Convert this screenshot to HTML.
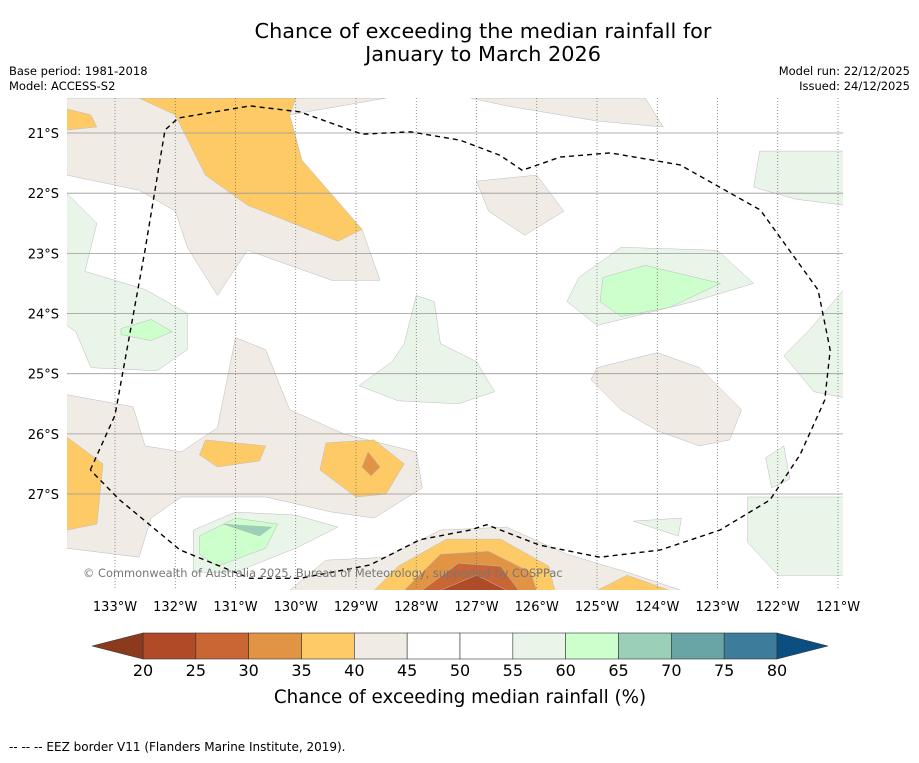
<!DOCTYPE html>
<html><head><meta charset="utf-8"><style>
body{margin:0;background:#fff;font-family:"Liberation Sans","DejaVu Sans",sans-serif;}
svg text{font-family:"DejaVu Sans","Liberation Sans",sans-serif;}
</style></head><body>
<svg id="chart" width="919" height="758" viewBox="0 0 919 758" xmlns="http://www.w3.org/2000/svg">
<text x="483" y="38" text-anchor="middle" font-size="20.8">Chance of exceeding the median rainfall for</text>
<text x="483" y="61" text-anchor="middle" font-size="20.8">January to March 2026</text>
<text x="9" y="75" font-size="11.5">Base period: 1981-2018</text>
<text x="9" y="90" font-size="11.5">Model: ACCESS-S2</text>
<text x="910" y="75" font-size="11.5" text-anchor="end">Model run: 22/12/2025</text>
<text x="910" y="90" font-size="11.5" text-anchor="end">Issued: 24/12/2025</text>
<defs><clipPath id="mapclip"><rect x="67" y="98" width="776" height="492"/></clipPath></defs>
<g id="map" clip-path="url(#mapclip)"><rect x="67" y="98" width="776" height="492" fill="#fff"/></g>
<g id="grid"></g>
<g id="eez"></g>
<text x="83" y="577" font-size="11.4" fill="#777">© Commonwealth of Australia 2025, Bureau of Meteorology, supported by COSPPac</text>
<g id="axes"></g>
<g id="cbar"></g>
<text x="460" y="703" text-anchor="middle" font-size="18.3">Chance of exceeding median rainfall (%)</text>
<text x="9" y="751" font-size="12">--  --  -- EEZ border V11 (Flanders Marine Institute, 2019).</text>
</svg>
<script>
const latTicks=[21,22,23,24,25,26,27];
const lonTicks=[133,132,131,130,129,128,127,126,125,124,123,122,121];
const levels=[20,25,30,35,40,45,50,55,60,65,70,75,80];
const bandColors=["#b04a27","#c96633","#e09444","#fdca66","#f0ebe5","#ffffff","#ffffff","#eaf5ea","#ccffcc","#9ccfb8","#6aa5a5","#3d7c9a"];
const extLow="#8b3a1d", extHigh="#0b4f82";
const beigeAreas=[
[[133.8,20.42],[128.5,20.42],[130.1,20.7],[129.9,21.45],[128.9,22.6],[128.6,23.45],[129.4,23.45],[130.8,22.95],[131.3,23.7],[131.8,22.9],[132.0,22.3],[132.6,21.95],[133.8,21.7]],
[[127.1,20.42],[124.2,20.42],[123.9,20.9],[125.0,20.8],[126.5,20.55]],
[[127.0,21.8],[126.0,21.7],[125.55,22.3],[126.2,22.7],[126.8,22.3]],
[[125.0,24.9],[124.0,24.65],[123.3,24.9],[122.6,25.6],[122.8,26.1],[123.3,26.2],[124.0,25.95],[124.6,25.6],[125.1,25.1]],
[[133.8,25.35],[132.7,25.55],[132.5,26.2],[131.9,26.3],[131.3,25.9],[131.0,24.4],[130.5,24.6],[130.1,25.6],[129.2,26.0],[128.0,26.3],[127.9,26.9],[128.7,27.4],[129.4,27.3],[130.5,27.05],[131.9,27.05],[132.4,27.4],[132.6,28.05],[133.8,27.9]],
[[130.1,28.6],[129.5,28.1],[128.5,28.05],[127.6,27.6],[126.5,27.55],[125.5,28.0],[124.5,28.3],[123.6,28.6]]
];
const orangeAreas=[
[[132.6,20.42],[130.0,20.42],[130.1,20.7],[129.9,21.45],[128.9,22.6],[129.3,22.8],[130.8,22.2],[131.5,21.7],[131.8,21.1],[132.0,20.7]],
[[133.8,20.6],[133.4,20.7],[133.3,20.9],[133.8,20.95]],
[[131.5,26.1],[130.5,26.2],[130.6,26.45],[131.3,26.55],[131.6,26.35]],
[[129.5,26.15],[128.7,26.1],[128.2,26.5],[128.5,27.0],[129.0,27.05],[129.6,26.6]],
[[133.8,26.05],[133.2,26.5],[133.3,27.5],[133.8,27.6]],
[[128.7,28.6],[128.3,28.2],[127.5,27.75],[126.6,27.75],[125.8,28.2],[125.7,28.6]],
[[125.0,28.6],[124.5,28.35],[123.8,28.6]]
];
const orange2Areas=[[[128.8,26.3],[128.6,26.55],[128.75,26.7],[128.9,26.55]],[[128.2,28.6],[127.6,28.0],[126.8,27.95],[126.1,28.3],[126.0,28.6]]];
const brownAreas=[[[127.9,28.6],[127.3,28.15],[126.6,28.2],[126.3,28.6]]];
const darkBrownAreas=[[[127.6,28.6],[127.0,28.35],[126.5,28.6]]];
const greenAreas=[
[[122.3,21.3],[120.9,21.3],[120.9,22.2],[121.7,22.1],[122.4,21.9]],
[[125.3,23.4],[124.6,22.9],[123.0,22.95],[122.4,23.5],[123.4,23.8],[125.0,24.2],[125.5,23.8]],
[[133.8,22.0],[133.3,22.5],[133.5,23.3],[132.5,23.6],[131.8,24.0],[131.8,24.6],[132.3,24.95],[133.4,24.9],[133.65,24.3],[133.8,24.2]],
[[128.0,23.7],[127.7,23.8],[127.6,24.5],[127.0,24.8],[126.7,25.3],[127.3,25.5],[128.3,25.45],[128.95,25.2],[128.4,24.8],[128.2,24.5]],
[[120.9,23.6],[121.5,24.3],[121.9,24.7],[121.4,25.3],[120.9,25.4]],
[[131.7,27.6],[131.0,27.3],[130.0,27.35],[129.3,27.55],[130.0,27.9],[131.0,28.3],[131.7,28.3]],
[[122.5,27.05],[120.9,27.05],[120.9,28.35],[122.0,28.35],[122.5,27.8]],
[[122.2,26.4],[121.9,26.2],[121.8,26.75],[122.1,26.9]],
[[124.4,27.45],[123.6,27.4],[123.65,27.7]]
];
const lightGreenAreas=[
[[124.9,23.4],[124.2,23.2],[122.95,23.5],[123.8,23.9],[124.6,24.05],[124.95,23.8]],
[[132.9,24.25],[132.4,24.1],[132.05,24.3],[132.4,24.45],[132.9,24.35]],
[[131.6,27.7],[131.0,27.4],[130.3,27.5],[130.5,27.9],[131.3,28.2],[131.6,28.0]]
];
const tealAreas=[[[131.2,27.5],[130.4,27.55],[130.6,27.7],[130.9,27.6]]];
const eezLine=[[133.41,26.60],[133.0,25.69],[132.5,22.94],[132.17,20.95],[131.95,20.75],[130.76,20.55],[129.93,20.65],[128.9,21.02],[128.1,20.98],[127.27,21.12],[126.61,21.37],[126.24,21.62],[125.61,21.40],[124.78,21.33],[123.62,21.53],[122.29,22.28],[121.33,23.61],[121.13,24.61],[121.22,25.44],[121.63,26.35],[122.13,27.10],[122.96,27.60],[123.95,27.93],[124.95,28.05],[125.95,27.85],[126.83,27.51],[127.11,27.60],[127.94,27.76],[128.77,28.18],[129.93,28.40],[130.76,28.40],[131.92,27.93],[132.92,27.10],[133.41,26.60]];

const NS="http://www.w3.org/2000/svg";
const X=lon=>115+(133-lon)*60.25;
const Y=lat=>133+(lat-21)*60.17;
const CB=v=>143+(v-20)*(634/60);
function mk(tag,attrs,parent){const e=document.createElementNS(NS,tag);for(const k in attrs)e.setAttribute(k,attrs[k]);parent.appendChild(e);return e;}
const map=document.getElementById('map');
function drawAreas(arr,fill,name){arr.forEach(poly=>{
 const p=mk('polygon',{points:poly.map(q=>X(q[0]).toFixed(1)+','+Y(q[1]).toFixed(1)).join(' '),fill:fill,stroke:'#bbb','stroke-width':0.5,'stroke-linejoin':'round'},map);
 
 
});}
drawAreas(beigeAreas,bandColors[4],'contour-40-45');
drawAreas(orangeAreas,bandColors[3],'contour-35-40');
drawAreas(orange2Areas,bandColors[2],'contour-30-35');
drawAreas(brownAreas,bandColors[1],'contour-25-30');
drawAreas(darkBrownAreas,bandColors[0],'contour-20-25');
drawAreas(greenAreas,bandColors[7],'contour-55-60');
drawAreas(lightGreenAreas,bandColors[8],'contour-60-65');
drawAreas(tealAreas,bandColors[9],'contour-65-70');
const grid=document.getElementById('grid'),axes=document.getElementById('axes');
latTicks.forEach(l=>{
 const ln=mk('line',{x1:67,x2:843,y1:Y(l),y2:Y(l),stroke:'#999','stroke-width':0.8},grid);
 
 
 const t=mk('text',{x:59,y:Y(l)+5,'text-anchor':'end','font-size':13},axes);
 
 
 t.textContent=l+'°S';
});
lonTicks.forEach(l=>{
 const ln=mk('line',{x1:X(l),x2:X(l),y1:98,y2:590,stroke:'#666','stroke-width':0.7,'stroke-dasharray':'1,2'},grid);
 
 
 const t=mk('text',{x:X(l),y:611,'text-anchor':'middle','font-size':13},axes);
 
 
 t.textContent=l+'°W';
});
const eez=document.getElementById('eez');
const pl=mk('polyline',{points:eezLine.map(q=>X(q[0]).toFixed(1)+','+Y(q[1]).toFixed(1)).join(' '),fill:'none',stroke:'#000','stroke-width':1.4,'stroke-dasharray':'5,4'},eez);


const cbar=document.getElementById('cbar');
const y0=633,h=26;
bandColors.forEach((c,i)=>{
 const r=mk('rect',{x:CB(levels[i]),y:y0,width:CB(levels[i+1])-CB(levels[i]),height:h,fill:c,stroke:'#333','stroke-width':0.6},cbar);
 
 
});
const lo=mk('polygon',{points:`${CB(20)},${y0} 92,${y0+h/2} ${CB(20)},${y0+h}`,fill:extLow,stroke:'#333','stroke-width':0.6},cbar);


const hi=mk('polygon',{points:`${CB(80)},${y0} 828,${y0+h/2} ${CB(80)},${y0+h}`,fill:extHigh,stroke:'#333','stroke-width':0.6},cbar);


levels.forEach(v=>{
 const t=mk('text',{x:CB(v),y:676,'text-anchor':'middle','font-size':16},cbar);
 
 
 t.textContent=v;
});
</script>
</body></html>
